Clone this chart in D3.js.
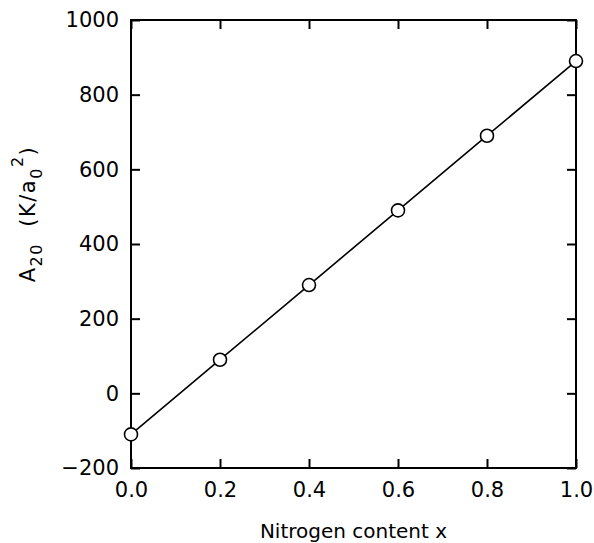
<!DOCTYPE html>
<html>
<head>
<meta charset="utf-8">
<script src="https://cdn.jsdelivr.net/npm/d3@7"></script>
<style>
  body { margin: 0; background: #fff; }
  text { font-family: "DejaVu Sans", sans-serif; fill: #000; }
</style>
</head>
<body>
<div id="chart"></div>
<script>
// data
const nitrogen = [0.0, 0.2, 0.4, 0.6, 0.8, 1.0];
const a20 = [-110, 90, 290, 490, 690, 890];
const x_ticks = [0.0, 0.2, 0.4, 0.6, 0.8, 1.0];
const y_ticks = [-200, 0, 200, 400, 600, 800, 1000];

const W = 594, H = 543;
const margin = {top: 20, right: 18, bottom: 75, left: 131};
const width = W - margin.left - margin.right;
const height = H - margin.top - margin.bottom;

const svg = d3.select("#chart").append("svg")
  .attr("width", W)
  .attr("height", H)
  .append("g")
  .attr("transform", `translate(${margin.left},${margin.top})`);

const x_scale = d3.scaleLinear().domain([0, 1]).range([0, width]);
const y_scale = d3.scaleLinear().domain([-200, 1000]).range([height, 0]);

// axes, ticks pointing inward
const tick_len = 9;
function style_axis(g) {
  g.select(".domain").remove();
  g.selectAll(".tick line").attr("stroke", "#000").attr("stroke-width", 2);
  g.selectAll(".tick text").style("font-size", "21px");
}

svg.append("g")
  .attr("transform", `translate(0,${height})`)
  .call(d3.axisBottom(x_scale).tickValues(x_ticks).tickSize(-tick_len)
    .tickPadding(14).tickFormat(d3.format(".1f")))
  .call(style_axis);

svg.append("g")
  .call(d3.axisLeft(y_scale).tickValues(y_ticks).tickSize(-tick_len)
    .tickPadding(12).tickFormat(d => d < 0 ? "\u2212" + Math.abs(d) : d))
  .call(style_axis);

svg.append("g")
  .call(d3.axisTop(x_scale).tickValues(x_ticks).tickSize(-tick_len).tickFormat(""))
  .call(style_axis);

svg.append("g")
  .attr("transform", `translate(${width},0)`)
  .call(d3.axisRight(y_scale).tickValues(y_ticks).tickSize(-tick_len).tickFormat(""))
  .call(style_axis);

// frame
svg.append("rect")
  .attr("x", 0).attr("y", 0)
  .attr("width", width).attr("height", height)
  .attr("fill", "none")
  .attr("stroke", "#000")
  .attr("stroke-width", 2);

// line + circles
const line = d3.line()
  .x((d, i) => x_scale(nitrogen[i]))
  .y(d => y_scale(d));

svg.append("path")
  .datum(a20)
  .attr("d", line)
  .attr("fill", "none")
  .attr("stroke", "#000")
  .attr("stroke-width", 1.6);

svg.selectAll("circle")
  .data(a20)
  .enter()
  .append("circle")
  .attr("cx", (d, i) => x_scale(nitrogen[i]))
  .attr("cy", d => y_scale(d))
  .attr("r", 6.5)
  .attr("fill", "#fff")
  .attr("stroke", "#000")
  .attr("stroke-width", 1.6);

// x title
svg.append("text")
  .attr("x", width / 2)
  .attr("y", height + 70)
  .attr("text-anchor", "middle")
  .style("font-size", "20px")
  .text("Nitrogen content x");

// y title
const yt = svg.append("text")
  .attr("transform", `translate(${35 - margin.left},${214 - margin.top}) rotate(-90)`)
  .attr("text-anchor", "middle")
  .style("font-size", "21px")
  .style("letter-spacing", "1.5px")
  .style("white-space", "pre");
yt.append("tspan").text("A");
yt.append("tspan").attr("dy", 7).style("font-size", "16px").text("20");
yt.append("tspan").attr("dy", -7).text("  (K/a");
yt.append("tspan").attr("dy", 7).style("font-size", "16px").text("0");
yt.append("tspan").attr("dy", -19).style("font-size", "16px").text("2");
yt.append("tspan").attr("dy", 12).text(")");
</script>
</body>
</html>
